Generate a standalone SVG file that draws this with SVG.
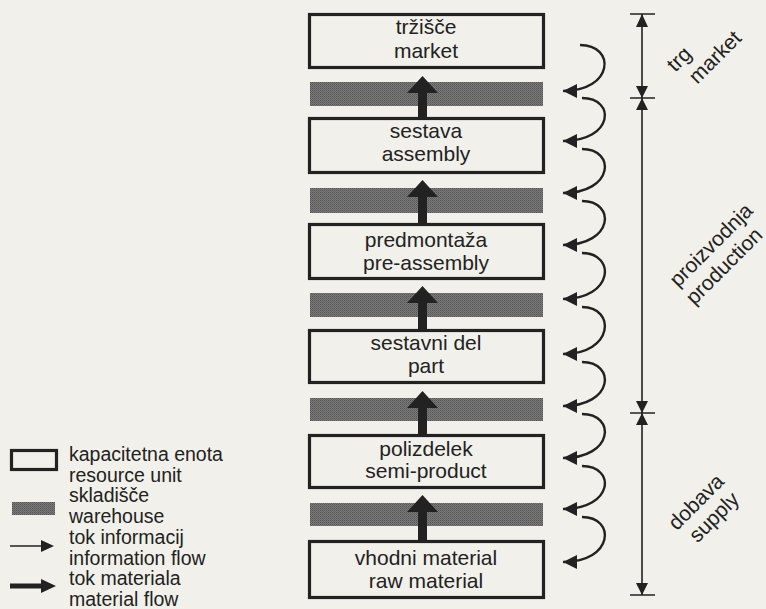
<svg xmlns="http://www.w3.org/2000/svg" width="766" height="609" viewBox="0 0 766 609">
<defs>
<pattern id="wh" width="2" height="2" patternUnits="userSpaceOnUse">
<rect width="2" height="2" fill="#7a7a7a"/>
<rect width="1" height="1" fill="#555"/>
<rect x="1" y="1" width="1" height="1" fill="#656565"/>
</pattern>
<marker id="ah" markerUnits="userSpaceOnUse" markerWidth="16" markerHeight="16" refX="14" refY="7" orient="auto">
<path d="M0,0 L14,7 L0,14 Z" fill="#222"/>
</marker>
</defs>
<style>
.box{fill:none;stroke:#222;stroke-width:3.2}
.ware{fill:url(#wh)}
.t{font-family:"Liberation Sans",Arial,sans-serif;font-size:21px;fill:#222;text-anchor:middle}
.lg{font-family:"Liberation Sans",Arial,sans-serif;font-size:19.5px;fill:#222}
.arc{fill:none;stroke:#222;stroke-width:2.4}
.ink{fill:#222}
.ln{stroke:#222;stroke-width:1.6;fill:none}
</style>
<rect width="766" height="609" fill="#f1f0ea"/>

<g id="market"><rect class="box" x="309.5" y="14.5" width="234" height="53"/><text class="t" x="426" y="34">tržišče</text><text class="t" x="426" y="58">market</text></g>
<g id="warehouse1"><rect class="ware" x="310" y="82" width="233" height="24"/></g>
<g id="assembly"><rect class="box" x="309.5" y="118.5" width="234" height="54"/><text class="t" x="426" y="138">sestava</text><text class="t" x="426" y="161">assembly</text></g>
<g id="warehouse2"><rect class="ware" x="310" y="188" width="233" height="25"/></g>
<g id="pre-assembly"><rect class="box" x="309.5" y="224.5" width="234" height="54"/><text class="t" x="426" y="247">predmontaža</text><text class="t" x="426" y="270">pre-assembly</text></g>
<g id="warehouse3"><rect class="ware" x="310" y="293" width="233" height="24"/></g>
<g id="part"><rect class="box" x="309.5" y="330.5" width="234" height="52"/><text class="t" x="426" y="350">sestavni del</text><text class="t" x="426" y="373">part</text></g>
<g id="warehouse4"><rect class="ware" x="310" y="398" width="233" height="23"/></g>
<g id="semi-product"><rect class="box" x="309.5" y="435.5" width="234" height="52"/><text class="t" x="426" y="456">polizdelek</text><text class="t" x="426" y="478">semi-product</text></g>
<g id="warehouse5"><rect class="ware" x="310" y="503" width="233" height="23"/></g>
<g id="raw-material"><rect class="box" x="309.5" y="541.5" width="234" height="56"/><text class="t" x="426" y="565">vhodni material</text><text class="t" x="426" y="588">raw material</text></g>

<g id="connectors">
<path class="ink" d="M418,117 V93 H407 L422.5,76 L438,93 H427 V117 Z"/>
<path class="ink" d="M418,223 V197 H407 L422.5,180 L438,197 H427 V223 Z"/>
<path class="ink" d="M418,330 V303 H407 L422.5,286 L438,303 H427 V330 Z"/>
<path class="ink" d="M418,435 V408 H407 L422.5,391 L438,408 H427 V435 Z"/>
<path class="ink" d="M418,541 V512 H407 L422.5,495 L438,512 H427 V541 Z"/>
<path class="arc" marker-end="url(#ah)" d="M580,45 C616,45 614,91 563,91"/>
<path class="arc" marker-end="url(#ah)" d="M582,98 C616,98 614,141 563,141"/>
<path class="arc" marker-end="url(#ah)" d="M582,149 C616,149 614,193 563,193"/>
<path class="arc" marker-end="url(#ah)" d="M582,201 C616,201 614,245 563,245"/>
<path class="arc" marker-end="url(#ah)" d="M582,253 C616,253 614,299 563,299"/>
<path class="arc" marker-end="url(#ah)" d="M582,307 C616,307 614,354 563,354"/>
<path class="arc" marker-end="url(#ah)" d="M582,362 C616,362 614,406 563,406"/>
<path class="arc" marker-end="url(#ah)" d="M582,414 C616,414 614,458 563,458"/>
<path class="arc" marker-end="url(#ah)" d="M582,466 C616,466 614,509 563,509"/>
<path class="arc" marker-end="url(#ah)" d="M582,517 C616,517 614,562 563,562"/>
<path class="ln" d="M642,14 V595 M630,14 H655 M630,98 H655 M630,413 H655 M630,595 H655"/>
<path class="ink" d="M642,14 L636,27 L648,27 Z M642,98 L636,86 L648,86 Z M642,98 L636,110 L648,110 Z M642,413 L636,401 L648,401 Z M642,413 L636,425 L648,425 Z M642,595 L636,583 L648,583 Z"/>
</g>

<g id="phase-labels">
<text class="t" transform="translate(684,64) rotate(-45)">trg</text>
<text class="t" transform="translate(720,62) rotate(-45)">market</text>
<text class="t" transform="translate(716,250) rotate(-45)">proizvodnja</text>
<text class="t" transform="translate(729,271) rotate(-45)">production</text>
<text class="t" transform="translate(701,507) rotate(-45)">dobava</text>
<text class="t" transform="translate(719,522) rotate(-45)">supply</text>
</g>

<g id="legend">
<rect class="box" x="11.5" y="450.5" width="45" height="19"/>
<rect class="ware" x="12" y="502" width="43" height="13"/>
<path class="ln" d="M10,546 H44"/>
<path class="ink" d="M54,546 L41,540 L41,552 Z"/>
<path class="ink" d="M10,583.5 H41 V579 L56,586 L41,593 V588.5 H10 Z"/>
<text class="lg" x="69" y="461">kapacitetna enota</text>
<text class="lg" x="69" y="482">resource unit</text>
<text class="lg" x="69" y="502">skladišče</text>
<text class="lg" x="69" y="523">warehouse</text>
<text class="lg" x="69" y="544">tok informacij</text>
<text class="lg" x="69" y="565">information flow</text>
<text class="lg" x="69" y="585">tok materiala</text>
<text class="lg" x="69" y="606">material flow</text>
</g>
</svg>
